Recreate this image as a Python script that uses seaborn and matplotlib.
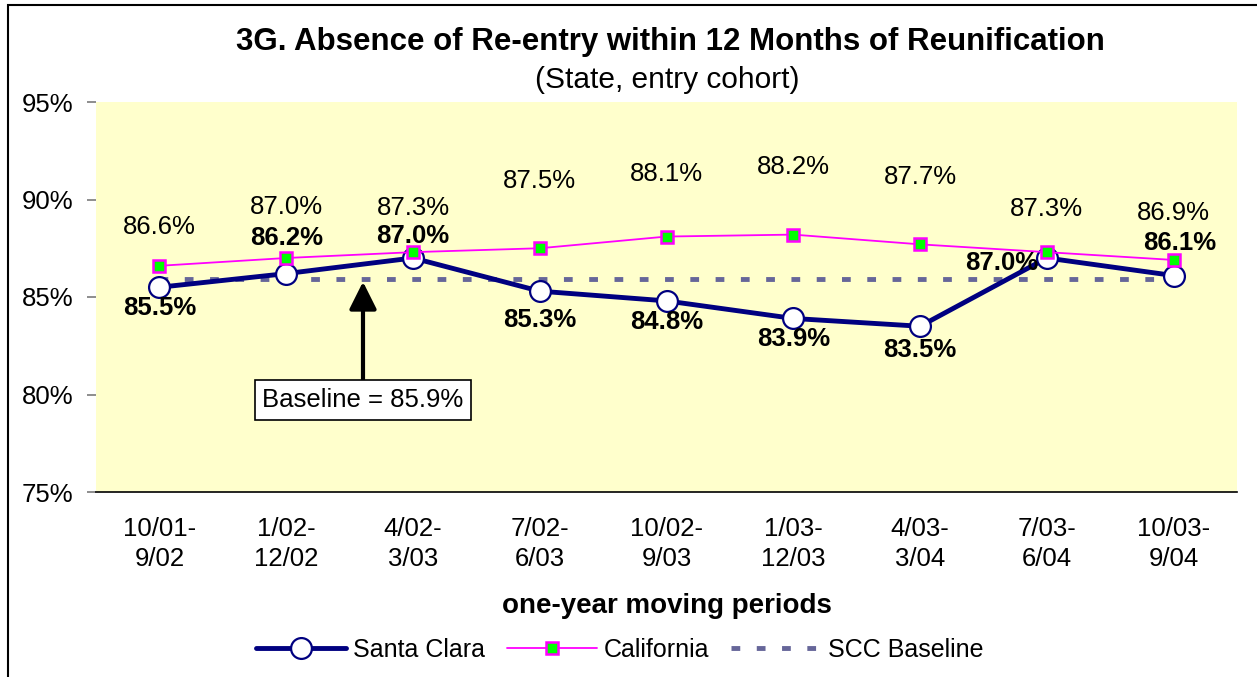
import matplotlib
matplotlib.use("Agg")
import matplotlib.pyplot as plt
from matplotlib.patches import Rectangle
import pandas as pd
import seaborn as sns

# data
periods = ["10/01-\n9/02", "1/02-\n12/02", "4/02-\n3/03", "7/02-\n6/03", "10/02-\n9/03",
           "1/03-\n12/03", "4/03-\n3/04", "7/03-\n6/04", "10/03-\n9/04"]
santa_clara = [85.5, 86.2, 87.0, 85.3, 84.8, 83.9, 83.5, 87.0, 86.1]
california = [86.6, 87.0, 87.3, 87.5, 88.1, 88.2, 87.7, 87.3, 86.9]
baseline = 85.9
yticks = [75, 80, 85, 90, 95]

# label offsets in pixels (dx, dy)
sc_offsets = [(0, -21), (0, 36), (0, 22), (0, -29), (0, -21), (0, -21), (0, -24), (-45, -5), (6, 33)]
ca_offsets = [(0, 39), (0, 51), (0, 44), (0, 67), (0, 63), (0, 68), (0, 67), (0, 43), (0, 47)]

sns.set_theme(style="white")
plt.rcParams["font.family"] = ["Liberation Sans", "DejaVu Sans"]
plt.rcParams["text.color"] = "black"
plt.rcParams["xtick.color"] = "black"
plt.rcParams["ytick.color"] = "black"
plt.rcParams["axes.labelcolor"] = "black"

df = pd.DataFrame({"x": range(len(periods)), "sc": santa_clara, "ca": california})
df["base"] = baseline

fig = plt.figure(figsize=(12.57, 6.77), dpi=100)
ax = fig.add_axes([96 / 1257, 1 - 492 / 677, (1237 - 96) / 1257, (492 - 102) / 677])
ax.set_facecolor("#FFFFCC")

sns.lineplot(data=df, x="x", y="base", ax=ax, color="#666699", lw=3.5,
             dashes=False, label="SCC Baseline", zorder=2)
ax.lines[-1].set_dashes([1.8, 3.4])
sns.lineplot(data=df, x="x", y="sc", ax=ax, color="#000080", lw=3.5,
             marker="o", markersize=15, markerfacecolor="white",
             markeredgecolor="#000080", markeredgewidth=1.6, label="Santa Clara", zorder=3)
sns.lineplot(data=df, x="x", y="ca", ax=ax, color="#FF00FF", lw=1.3,
             marker="s", markersize=9, markerfacecolor="#00FF00",
             markeredgecolor="#FF00FF", markeredgewidth=1.8, label="California", zorder=4)

for i, v in enumerate(santa_clara):
    ax.annotate(f"{v:.1f}%", (i, v), xytext=sc_offsets[i], textcoords="offset pixels",
                ha="center", va="center", fontsize=18.5, fontweight="bold", zorder=6)
for i, v in enumerate(california):
    ax.annotate(f"{v:.1f}%", (i, v), xytext=ca_offsets[i], textcoords="offset pixels",
                ha="center", va="center", fontsize=18.5, zorder=6)

ax.annotate("Baseline = 85.9%", xy=(1.606, baseline - 0.12), xytext=(1.606, 79.72),
            ha="center", va="center", fontsize=18.5,
            bbox=dict(boxstyle="square,pad=0.3", fc="white", ec="black", lw=1.2),
            arrowprops=dict(arrowstyle="-|>,head_length=0.9,head_width=0.45", color="black",
                            lw=3, shrinkA=0, shrinkB=0), zorder=7)

ax.set_xlim(-0.5, len(periods) - 0.5)
ax.set_ylim(75, 95)
ax.set_yticks(yticks)
ax.set_yticklabels([f"{t}%" for t in yticks], fontsize=18.5)
ax.set_xticks(range(len(periods)))
ax.set_xticklabels(periods, fontsize=18.5, linespacing=1.3)
ax.tick_params(axis="y", length=6.5, color="#808080", left=True, pad=10)
ax.tick_params(axis="x", length=0, pad=18)
ax.set_ylabel("")
ax.set_xlabel("one-year moving periods", fontsize=20, fontweight="bold", labelpad=16)
for s in ["top", "right", "left"]:
    ax.spines[s].set_visible(False)
ax.spines["bottom"].set_color("black")
ax.spines["bottom"].set_linewidth(1.2)

h, l = ax.get_legend_handles_labels()
order = [l.index("Santa Clara"), l.index("California"), l.index("SCC Baseline")]
ax.legend([h[k] for k in order], [l[k] for k in order], loc="center",
          bbox_to_anchor=(0.493, (677 - 650) / 677), bbox_transform=fig.transFigure,
          ncol=3, frameon=False, fontsize=18, handlelength=3.6, columnspacing=0.9,
          handletextpad=0.25)

fig.text(0.533, 1 - 42 / 677, "3G. Absence of Re-entry within 12 Months of Reunification",
         ha="center", va="center", fontsize=22.5, fontweight="bold")
fig.text(0.531, 1 - 80 / 677, "(State, entry cohort)", ha="center", va="center", fontsize=21.5)

fig.patches.append(Rectangle((8 / 1257, -0.01), 1.1, 1 - 5 / 677 + 0.01,
                             transform=fig.transFigure, fill=False, ec="black", lw=1.5))

fig.savefig("out.png", dpi=100)
